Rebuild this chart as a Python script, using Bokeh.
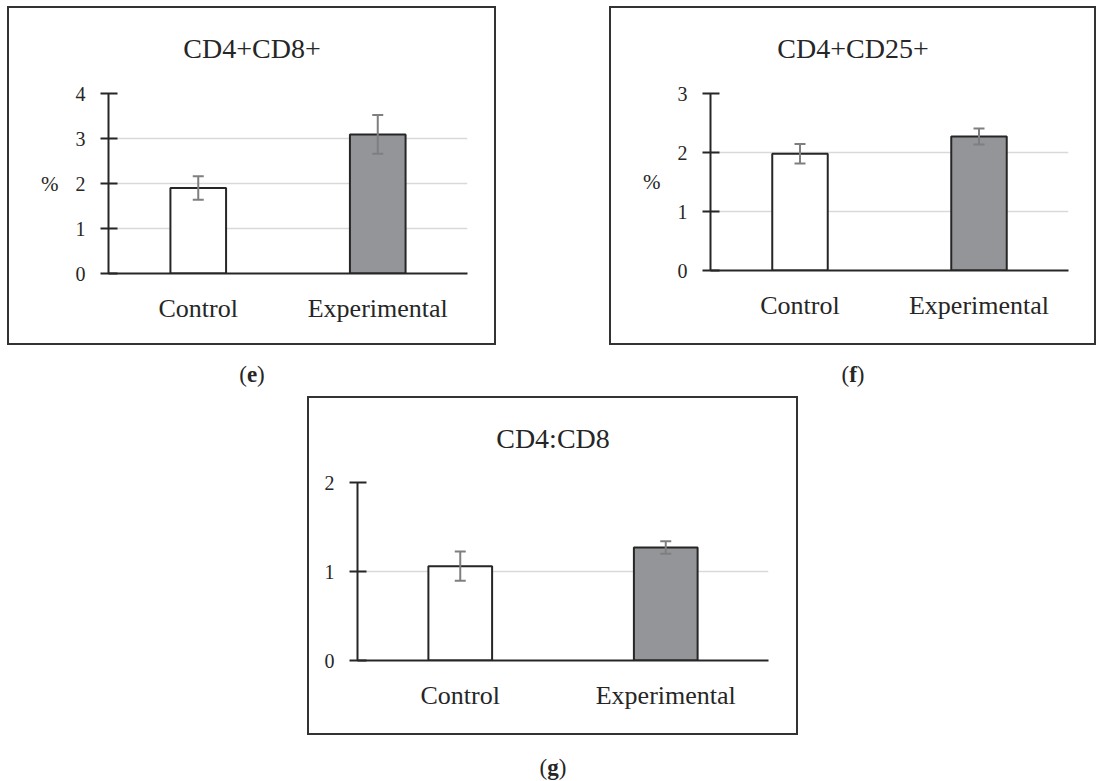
from bokeh.plotting import figure
from bokeh.models import ColumnDataSource, Whisker, TeeHead, FactorRange, FixedTicker, Spacer, Range1d
from bokeh.layouts import row, column
from bokeh.embed import file_html
from bokeh.resources import INLINE
from bokeh.core.properties import value

# ---------------- data ----------------
categories = ["Control", "Experimental"]
bar_colors = ["#ffffff", "#939598"]

e_title = "CD4+CD8+"
e_means = [1.90, 3.09]
e_errors = [0.26, 0.43]
e_ticks = [0, 1, 2, 3, 4]

f_title = "CD4+CD25+"
f_means = [1.98, 2.27]
f_errors = [0.165, 0.135]
f_ticks = [0, 1, 2, 3]

g_title = "CD4:CD8"
g_means = [1.06, 1.27]
g_errors = [0.165, 0.07]
g_ticks = [0, 1, 2]

y_unit = "%"
caption_letters = ["e", "f", "g"]

FONT = "Liberation Serif"
INK = "#262626"
BORDER = 2
BOX_STYLE = {"border": f"{BORDER}px solid #333333"}
TITLE_H = 56


def text_fig(width, height, x0=0, x1=None):
    c = figure(width=width, height=height,
               x_range=Range1d(x0, width if x1 is None else x1), y_range=Range1d(0, height),
               output_backend="svg", toolbar_location=None, min_border=0,
               x_axis_location=None, y_axis_location=None)
    c.outline_line_color = None
    c.grid.visible = False
    return c


def panel(title, means, errors, ticks, ylabel, box, frame, title_cy):
    bx, by, bw, bh = box
    fl, ft, fr, fb = frame
    iw, ih = bw - 2 * BORDER, bh - 2 * BORDER

    # title strip: its frame is aligned with the chart frame by the column layout,
    # so its x range is expressed in page pixels from fl to fr
    t = text_fig(iw, TITLE_H, fl, fr)
    t.text(x=[bx + bw / 2], y=[TITLE_H - (title_cy - by - BORDER)], text=[title],
           text_align="center", text_baseline="middle", text_font=value(FONT),
           text_font_size="28px", text_color=INK)

    src = ColumnDataSource(dict(
        cat=categories,
        mean=means,
        upper=[m + e for m, e in zip(means, errors)],
        lower=[m - e for m, e in zip(means, errors)],
        color=bar_colors,
    ))
    ph = ih - TITLE_H
    p = figure(x_range=FactorRange(*categories, range_padding=0),
               y_range=Range1d(ticks[0], ticks[-1]),
               width=iw, height=ph,
               output_backend="svg", toolbar_location=None,
               min_border_left=fl - bx - BORDER,
               min_border_right=(bx + bw - BORDER) - fr,
               min_border_top=ft - by - BORDER - TITLE_H,
               min_border_bottom=(by + bh - BORDER) - fb,
               background_fill_color="white", border_fill_color="white")
    p.outline_line_color = None

    p.xgrid.visible = False
    p.ygrid.grid_line_color = "#d9d9d9"
    p.ygrid.grid_line_width = 1.5
    p.yaxis.ticker = FixedTicker(ticks=ticks)

    p.vbar(x="cat", top="mean", bottom=0, width=0.31, source=src,
           fill_color="color", line_color=INK, line_width=2)

    w = Whisker(base="cat", upper="upper", lower="lower", source=src,
                line_color="#7f7f7f", line_width=2, level="overlay",
                upper_head=TeeHead(size=11, line_color="#7f7f7f", line_width=2),
                lower_head=TeeHead(size=11, line_color="#7f7f7f", line_width=2))
    p.add_layout(w)

    ya = p.yaxis[0]
    ya.axis_line_color = INK
    ya.axis_line_width = 2
    ya.major_tick_line_color = INK
    ya.major_tick_line_width = 2
    ya.major_tick_in = 9
    ya.major_tick_out = 8
    ya.minor_tick_line_color = None
    ya.major_label_text_font = FONT
    ya.major_label_text_font_size = "20px"
    ya.major_label_text_color = INK
    ya.major_label_standoff = 15
    if ylabel:
        ya.axis_label = ylabel
        ya.axis_label_text_font = FONT
        ya.axis_label_text_font_size = "21px"
        ya.axis_label_text_font_style = "normal"
        ya.axis_label_text_color = INK
        ya.axis_label_standoff = 14
        if "axis_label_orientation" in ya.properties():
            ya.axis_label_orientation = "horizontal"

    xa = p.xaxis[0]
    xa.axis_line_color = INK
    xa.axis_line_width = 2
    xa.major_tick_line_color = None
    xa.major_tick_in = 0
    xa.major_tick_out = 0
    xa.minor_tick_line_color = None
    xa.major_label_text_font = FONT
    xa.major_label_text_font_size = "26px"
    xa.major_label_text_color = INK
    xa.major_label_standoff = 20

    return column(t, p, styles=BOX_STYLE)


def caption(letter, width, height, baseline_from_top):
    c = text_fig(width, height)
    fs = 23
    letter_w = {"e": 0.444, "f": 0.333, "g": 0.5}[letter] * fs
    cx = width / 2
    y = height - baseline_from_top
    common = dict(text_font=value(FONT), text_font_size=f"{fs}px", text_color=INK,
                  text_baseline="alphabetic")
    c.text(x=[cx - letter_w / 2], y=[y], text=["("], text_align="right", **common)
    c.text(x=[cx], y=[y], text=[letter], text_align="center", text_font_style="bold", **common)
    c.text(x=[cx + letter_w / 2], y=[y], text=[")"], text_align="left", **common)
    return c


pe = panel(e_title, e_means, e_errors, e_ticks, y_unit, (7, 6, 489, 339), (108, 93, 467, 273), 48)
pf = panel(f_title, f_means, f_errors, f_ticks, y_unit, (609, 6, 487, 339), (710, 93, 1068, 270), 48)
pg = panel(g_title, g_means, g_errors, g_ticks, None, (307, 396, 491, 339), (357, 482, 768, 660), 438)

ce = caption(caption_letters[0], 489, 51, 29)
cf = caption(caption_letters[1], 487, 51, 29)
cg = caption(caption_letters[2], 491, 46, 32)

layout = column(
    Spacer(width=1100, height=6),
    row(Spacer(width=7, height=339), pe, Spacer(width=113, height=339), pf),
    row(Spacer(width=7, height=51), ce, Spacer(width=113, height=51), cf),
    row(Spacer(width=307, height=339), pg),
    row(Spacer(width=307, height=46), cg),
)

open("out.html", "w").write(file_html(layout, INLINE))
